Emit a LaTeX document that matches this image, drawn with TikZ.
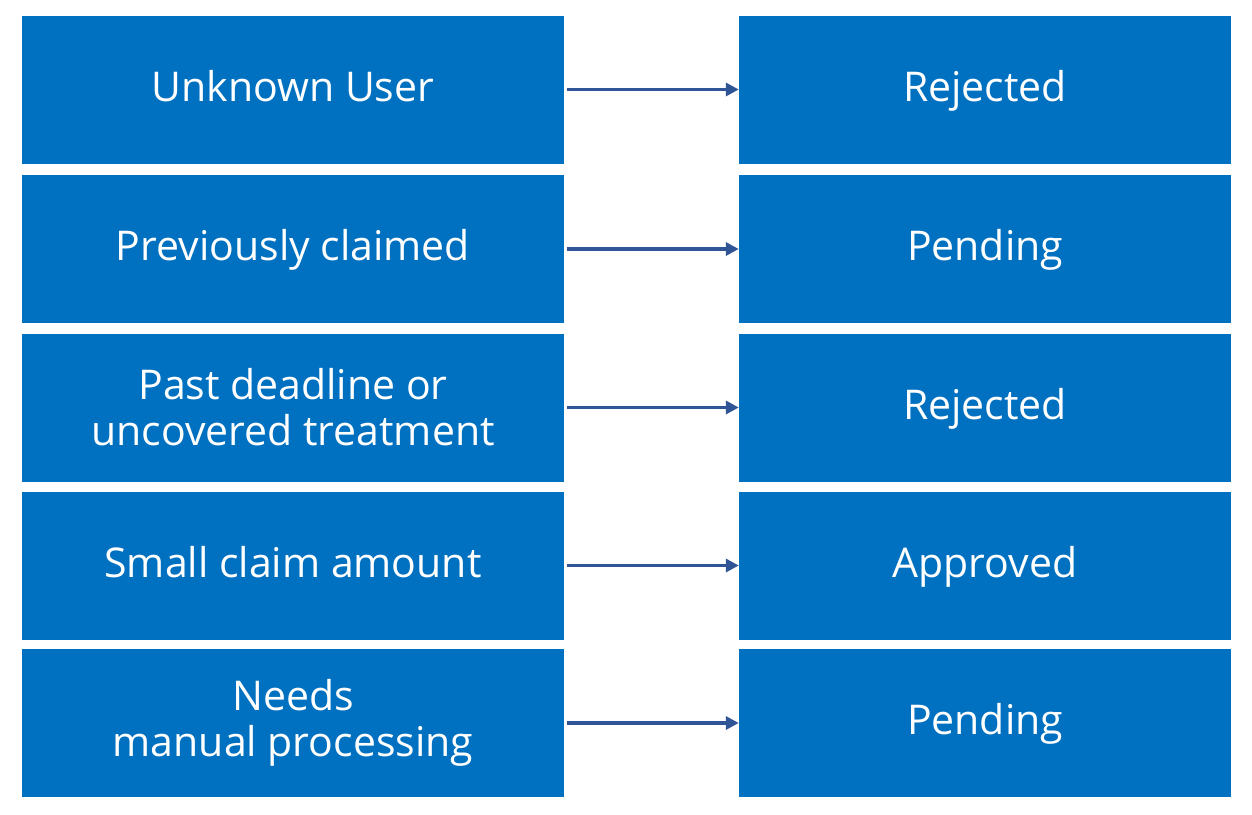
\documentclass[tikz,border=0pt]{standalone}
\usepackage{fontspec}
\setmainfont{Open Sans}
\usetikzlibrary{arrows.meta}

\definecolor{boxblue}{HTML}{0070C0}
\definecolor{arrowblue}{HTML}{2F5597}

\begin{document}
\begin{tikzpicture}[x=1pt,y=-1pt,
  cond/.style={fill=boxblue, draw=none, text=white, minimum width=542pt, minimum height=148pt, align=center, inner sep=0pt, font=\fontsize{41}{46}\selectfont},
  oneline/.style={text height=32pt, text depth=9pt},
  result/.style={cond, oneline, minimum width=492pt},
  flow/.style={-{Triangle[length=13pt,width=13pt]}, line width=3.5pt, arrowblue, shorten <=3pt}]

% Fix the page size
\useasboundingbox (0,0) rectangle (1252,814);

% Conditions on the left
\node [cond, oneline] (cond1) at (293,89.5) {Unknown User};
\node [cond, oneline] (cond2) at (293,249) {Previously claimed};
\node [cond] (cond3) at (293,407.5) {Past deadline or\\uncovered treatment};
\node [cond, oneline] (cond4) at (293,565.5) {Small claim amount};
\node [cond] (cond5) at (293,723) {Needs\\manual processing};

% Outcomes on the right
\node [result] (res1) at (985,89.5) {Rejected};
\node [result] (res2) at (985,249) {Pending};
\node [result] (res3) at (985,407.5) {Rejected};
\node [result] (res4) at (985,565.5) {Approved};
\node [result] (res5) at (985,723) {Pending};

% Arrows
\draw [flow] (cond1) -- (res1);
\draw [flow] (cond2) -- (res2);
\draw [flow] (cond3) -- (res3);
\draw [flow] (cond4) -- (res4);
\draw [flow] (cond5) -- (res5);

\end{tikzpicture}
\end{document}
